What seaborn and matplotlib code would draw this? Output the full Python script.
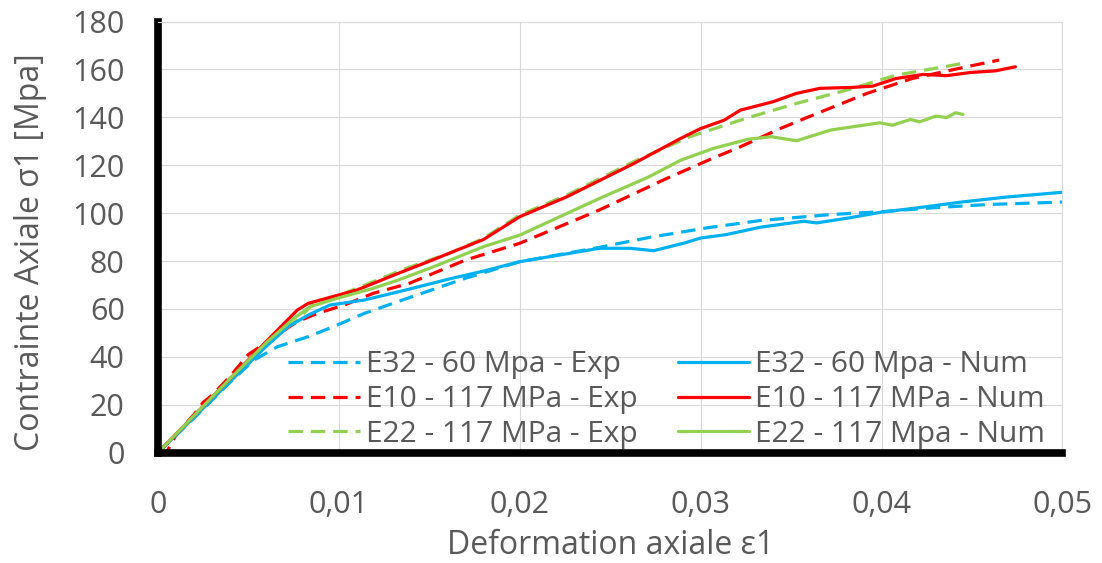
import matplotlib
matplotlib.use("Agg")
import matplotlib.pyplot as plt
from matplotlib.ticker import FuncFormatter, MultipleLocator
import seaborn as sns

# données
x_e32_exp = [0, 0.001, 0.002, 0.003, 0.004, 0.0053, 0.0066, 0.0083, 0.0097, 0.0114, 0.0137, 0.017, 0.020,
             0.0244, 0.0272, 0.0304, 0.0333, 0.0372, 0.040, 0.043, 0.0459, 0.050]
y_e32_exp = [0, 7.2, 14.5, 22, 29.5, 38.6, 44.2, 48.4, 52.6, 58.1, 64.2, 72.8, 79.7,
             85.7, 89.9, 93.9, 96.9, 99.4, 100.6, 102.3, 103.6, 104.6]

x_e32_num = [0, 0.002, 0.004, 0.006, 0.0072, 0.0083, 0.0095, 0.0114, 0.0137, 0.0161, 0.018, 0.020, 0.0222,
             0.0244, 0.0261, 0.0274, 0.0291, 0.030, 0.0314, 0.0333, 0.0357, 0.0364, 0.0382, 0.040, 0.042,
             0.0444, 0.0469, 0.050]
y_e32_num = [0, 14.8, 29.8, 44.5, 52.6, 57.4, 61.6, 63.7, 67.9, 72.5, 75.8, 79.7, 82.5,
             85.3, 85.3, 84.3, 87.5, 89.6, 91, 94.1, 96.6, 95.9, 98, 100.4, 102.2,
             104.6, 106.7, 108.7]

x_e10_exp = [0, 0.0005, 0.001, 0.002, 0.0025, 0.003, 0.004, 0.005, 0.006, 0.007, 0.0077, 0.0088, 0.0103,
             0.0119, 0.0139, 0.017, 0.020, 0.0244, 0.0281, 0.0307, 0.0322, 0.0344, 0.0362, 0.0392, 0.0417,
             0.0447, 0.0465]
y_e10_exp = [0, 0.5, 7.5, 16, 21, 24, 32, 41, 46, 51.2, 54.7, 58.1, 61.6,
             66.5, 70.7, 80.4, 87.4, 101.3, 114.4, 123, 127.7, 135.3, 140.9, 150, 156.2,
             161.1, 163.9]

x_e10_num = [0, 0.002, 0.004, 0.006, 0.0077, 0.0083, 0.0095, 0.011, 0.0133, 0.0152, 0.018, 0.020, 0.0226,
             0.0263, 0.0289, 0.030, 0.0313, 0.0322, 0.034, 0.0353, 0.0366, 0.0384, 0.0395, 0.0408, 0.0423,
             0.0436, 0.0449, 0.0463, 0.0474]
y_e10_num = [0, 15.5, 31, 46.5, 59.5, 62.3, 64.8, 67.9, 74.9, 80.5, 89, 98.5, 106.8,
             120.7, 131.2, 135.3, 138.8, 143, 146.5, 150, 152.1, 152.5, 153, 156.2, 157.9,
             157.4, 158.7, 159.4, 161.1]

x_e22_exp = [0, 0.002, 0.004, 0.006, 0.0077, 0.0086, 0.0103, 0.0137, 0.0161, 0.018, 0.020, 0.0226, 0.0263,
             0.0294, 0.0326, 0.0353, 0.0381, 0.0408, 0.0445]
y_e22_exp = [0, 15.5, 31, 46, 55.3, 62.3, 66.5, 76.9, 83.2, 89.5, 99.2, 107.5, 121.5,
             131.9, 139.8, 145.8, 151.4, 157.6, 162.5]

x_e22_num = [0, 0.002, 0.004, 0.006, 0.0075, 0.0084, 0.0099, 0.0119, 0.0133, 0.0152, 0.018, 0.020, 0.0244,
             0.0271, 0.0289, 0.0307, 0.0326, 0.0339, 0.0353, 0.0372, 0.0399, 0.0406, 0.0416, 0.0421, 0.043,
             0.0436, 0.0441, 0.0445]
y_e22_num = [0, 15.5, 31, 46, 56, 60.9, 64.4, 68.6, 72.1, 77.5, 86, 90.8, 106.1,
             115, 122.1, 127, 130.8, 131.9, 130.2, 134.7, 137.7, 136.7, 139.1, 138.1, 140.5,
             139.9, 141.9, 141.2]

# ordre = ordre de la légende (colonne Exp puis colonne Num)
series = [
    ("E32 - 60 Mpa - Exp", x_e32_exp, y_e32_exp, "#00B0F0", True),
    ("E10 - 117 MPa - Exp", x_e10_exp, y_e10_exp, "#FF0000", True),
    ("E22 - 117 MPa - Exp", x_e22_exp, y_e22_exp, "#92D050", True),
    ("E32 - 60 Mpa - Num", x_e32_num, y_e32_num, "#00B0F0", False),
    ("E10 - 117 MPa - Num", x_e10_num, y_e10_num, "#FF0000", False),
    ("E22 - 117 Mpa - Num", x_e22_num, y_e22_num, "#92D050", False),
]

sns.set_style("whitegrid")
plt.rcParams['font.family'] = ['Open Sans', 'DejaVu Sans']
grey = "#595959"

fig = plt.figure(figsize=(11.02, 5.63), dpi=100)
ax = fig.add_axes([0.1434, 0.1961, 0.8207, 0.7657])

for name, xs, ys, col, dashed in series:
    sns.lineplot(x=xs, y=ys, ax=ax, color=col, lw=2.3, label=name, sort=False, estimator=None,
                 linestyle=(0, (4.5, 2.5)) if dashed else '-')

ax.set_xlim(0, 0.05)
ax.set_ylim(0, 180)
ax.xaxis.set_major_locator(MultipleLocator(0.01))
ax.yaxis.set_major_locator(MultipleLocator(20))
ax.xaxis.set_major_formatter(FuncFormatter(lambda v, p: '0' if abs(v) < 1e-9 else f'{v:.2f}'.replace('.', ',')))

ax.grid(True, color="#D9D9D9", lw=0.8)
for s in ['left', 'bottom']:
    ax.spines[s].set_color('black')
    ax.spines[s].set_linewidth(5.5)
for s in ['top', 'right']:
    ax.spines[s].set_color('#D9D9D9')
    ax.spines[s].set_linewidth(0.8)

ax.tick_params(axis='both', length=0, labelsize=22, labelcolor=grey)
ax.tick_params(axis='y', pad=24)
ax.tick_params(axis='x', pad=27)

ax.set_xlabel("Deformation axiale ε1", fontsize=23, color=grey)
ax.set_ylabel("Contrainte Axiale σ1 [Mpa]", fontsize=23, color=grey)
ax.xaxis.set_label_coords(0.5, -0.177)
ax.yaxis.set_label_coords(-0.123, 0.465)

ax.legend(ncol=2, frameon=False, fontsize=21.5, labelcolor=grey, loc='upper left',
          bbox_to_anchor=(288 / 1102, 1 - 350 / 563), bbox_transform=fig.transFigure,
          borderpad=0, borderaxespad=0, handlelength=2.4, handletextpad=0.2,
          columnspacing=1.35, labelspacing=0.2)

fig.savefig("out.png", dpi=100)
